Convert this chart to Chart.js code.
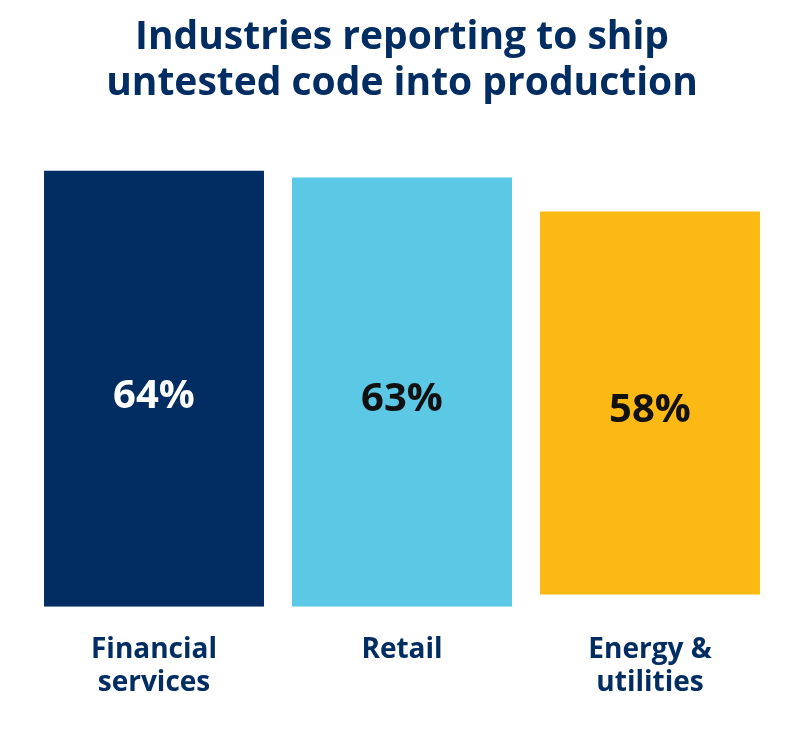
<!DOCTYPE html>
<html>
<head>
<meta charset="utf-8">
<script src="https://cdn.jsdelivr.net/npm/chart.js@4.4.1/dist/chart.umd.min.js"></script>
<style>
  html, body { margin: 0; padding: 0; background: #ffffff; }
  #wrap { width: 806px; height: 756px; position: relative; }
</style>
</head>
<body>
<div id="wrap"><canvas id="c" width="806" height="756"></canvas></div>
<script>
const categories = [["Financial", "services"], ["Retail"], ["Energy &", "utilities"]];
const values = [64, 63, 58];
const barBase = [0, 0, 1.8];
const valueLabels = ["64%", "63%", "58%"];
const barColors = ["#012D63", "#5BC8E6", "#FDB913"];
const labelColors = ["#ffffff", "#111111", "#111111"];
const titleLines = ["Industries reporting to ship", "untested code into production"];

const NAVY = "#012D63";
const FONT = "'Open Sans', 'Noto Sans', sans-serif";

const valueLabelPlugin = {
  id: 'valueLabels',
  afterDatasetsDraw(chart) {
    const ctx = chart.ctx;
    const meta = chart.getDatasetMeta(0);
    ctx.save();
    ctx.font = "bold 40px " + FONT;
    ctx.textAlign = "center";
    ctx.textBaseline = "middle";
    meta.data.forEach((bar, i) => {
      const p = bar.getProps(['x', 'y', 'base'], true);
      const cy = (p.y + p.base) / 2 + 8;
      ctx.fillStyle = labelColors[i];
      ctx.fillText(valueLabels[i], p.x, cy);
    });
    ctx.restore();
  }
};

new Chart(document.getElementById('c'), {
  type: 'bar',
  data: {
    labels: categories,
    datasets: [{
      data: values.map((v, i) => [barBase[i], v]),
      backgroundColor: barColors,
      borderWidth: 0,
      barPercentage: 0.887,
      categoryPercentage: 1.0
    }]
  },
  options: {
    responsive: false,
    animation: false,
    layout: { padding: { left: 30, right: 32, top: 0, bottom: 38 } },
    plugins: {
      legend: { display: false },
      tooltip: { enabled: false },
      title: {
        display: true,
        text: titleLines,
        color: NAVY,
        font: { family: FONT, size: 39, weight: 'bold', lineHeight: 1.2 },
        padding: { top: 14, bottom: 63 }
      }
    },
    scales: {
      y: {
        display: false,
        min: 0,
        max: 64,
        beginAtZero: true
      },
      x: {
        grid: { display: false },
        border: { display: false },
        ticks: {
          color: NAVY,
          padding: 18,
          font: { family: FONT, size: 28, weight: 'bold', lineHeight: 1.2 }
        }
      }
    }
  },
  plugins: [valueLabelPlugin]
});
</script>
</body>
</html>
